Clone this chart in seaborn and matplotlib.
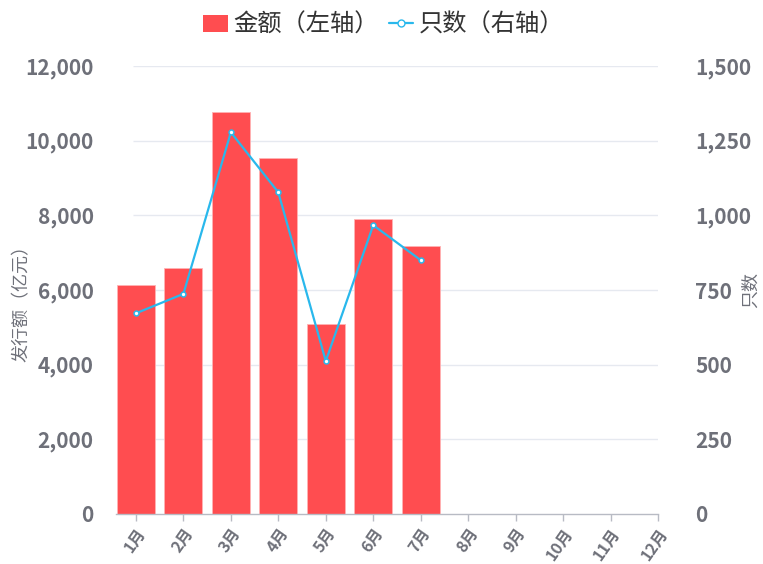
import numpy as np
import pandas as pd
import matplotlib
matplotlib.use("Agg")
import matplotlib.pyplot as plt
from matplotlib.ticker import FuncFormatter
from matplotlib.lines import Line2D
from matplotlib.patches import Patch
import seaborn as sns

# data
months = ["1月", "2月", "3月", "4月", "5月", "6月", "7月", "8月", "9月", "10月", "11月", "12月"]
amount = [6140, 6590, 10760, 9530, 5090, 7900, 7180]   # 亿元, left axis
count = [672, 737, 1278, 1077, 512, 967, 850]           # 只数, right axis

bar_color = "#FF4D50"
line_color = "#29B8EC"
label_color = "#6E7079"

sns.set_style("white")
plt.rcParams["font.family"] = ["Noto Sans CJK SC", "DejaVu Sans"]

fig = plt.figure(figsize=(7.63, 5.64), dpi=100)
ax = fig.add_axes([116 / 763, 1 - 514 / 564, (658 - 116) / 763, (514 - 66) / 564])

df = pd.DataFrame({"month": months[:len(amount)], "amount": amount})
sns.barplot(data=df, x="month", y="amount", order=months, color=bar_color,
            saturation=1, width=0.8, ax=ax, zorder=2)
for p in ax.patches:
    p.set_edgecolor("#FFB3B4")
    p.set_linewidth(0.6)

ax.set_xlim(-0.42, 11)
ax.set_ylim(0, 12000)
ax.set_yticks(np.arange(0, 12001, 2000))
ax.yaxis.set_major_formatter(FuncFormatter(lambda v, _: f"{v:,.0f}"))
ax.hlines(np.arange(2000, 12001, 2000), -0.06, 11, color="#E6E9F0", lw=1, zorder=0)

ax2 = ax.twinx()
sns.lineplot(x=np.arange(len(count)), y=count, ax=ax2, color=line_color, lw=1.6,
             marker="o", markersize=3.5, markerfacecolor="white",
             markeredgecolor=line_color, markeredgewidth=1.1, zorder=3)
ax2.set_ylim(0, 1500)
ax2.set_yticks(np.arange(0, 1501, 250))
ax2.yaxis.set_major_formatter(FuncFormatter(lambda v, _: f"{v:,.0f}"))

for a in (ax, ax2):
    for s in ("top", "left", "right", "bottom"):
        a.spines[s].set_visible(False)

ax.spines["bottom"].set_visible(True)
ax.spines["bottom"].set_color("#B8BBC4")
ax.spines["bottom"].set_linewidth(1)

ax.set_xlabel("")
ax.set_ylabel("发行额（亿元）", color=label_color, fontsize=13)
ax2.set_ylabel("只数", color=label_color, fontsize=13)
ax.yaxis.set_label_coords(-0.157, 0.48)
ax2.yaxis.set_label_coords(1.155, 0.50)

ax.tick_params(axis="y", length=0, pad=16, labelsize=15, labelcolor=label_color)
ax2.tick_params(axis="y", length=0, pad=27, labelsize=15, labelcolor=label_color)
ax.tick_params(axis="x", length=5, width=1, color="#B8BBC4", pad=3,
               labelsize=11.5, labelcolor=label_color, bottom=True)
for t in ax.get_yticklabels() + ax2.get_yticklabels() + ax.get_xticklabels():
    t.set_fontweight("bold")
for t in ax.get_xticklabels():
    t.set_rotation(55)
    t.set_ha("right")
    t.set_va("top")
    t.set_rotation_mode("anchor")

handles = [Patch(facecolor=bar_color, edgecolor="none"),
           Line2D([], [], color=line_color, lw=1.6, marker="o", markersize=5,
                  markerfacecolor="white", markeredgecolor=line_color)]
fig.legend(handles, ["金额（左轴）", "只数（右轴）"], loc="center",
           bbox_to_anchor=(384 / 763, 1 - 25 / 564), ncol=2, frameon=False,
           fontsize=17.5, handlelength=1.0, handleheight=0.7, handletextpad=0.25,
           columnspacing=0.4, labelcolor="#333333")

fig.savefig("out.png", dpi=100)
